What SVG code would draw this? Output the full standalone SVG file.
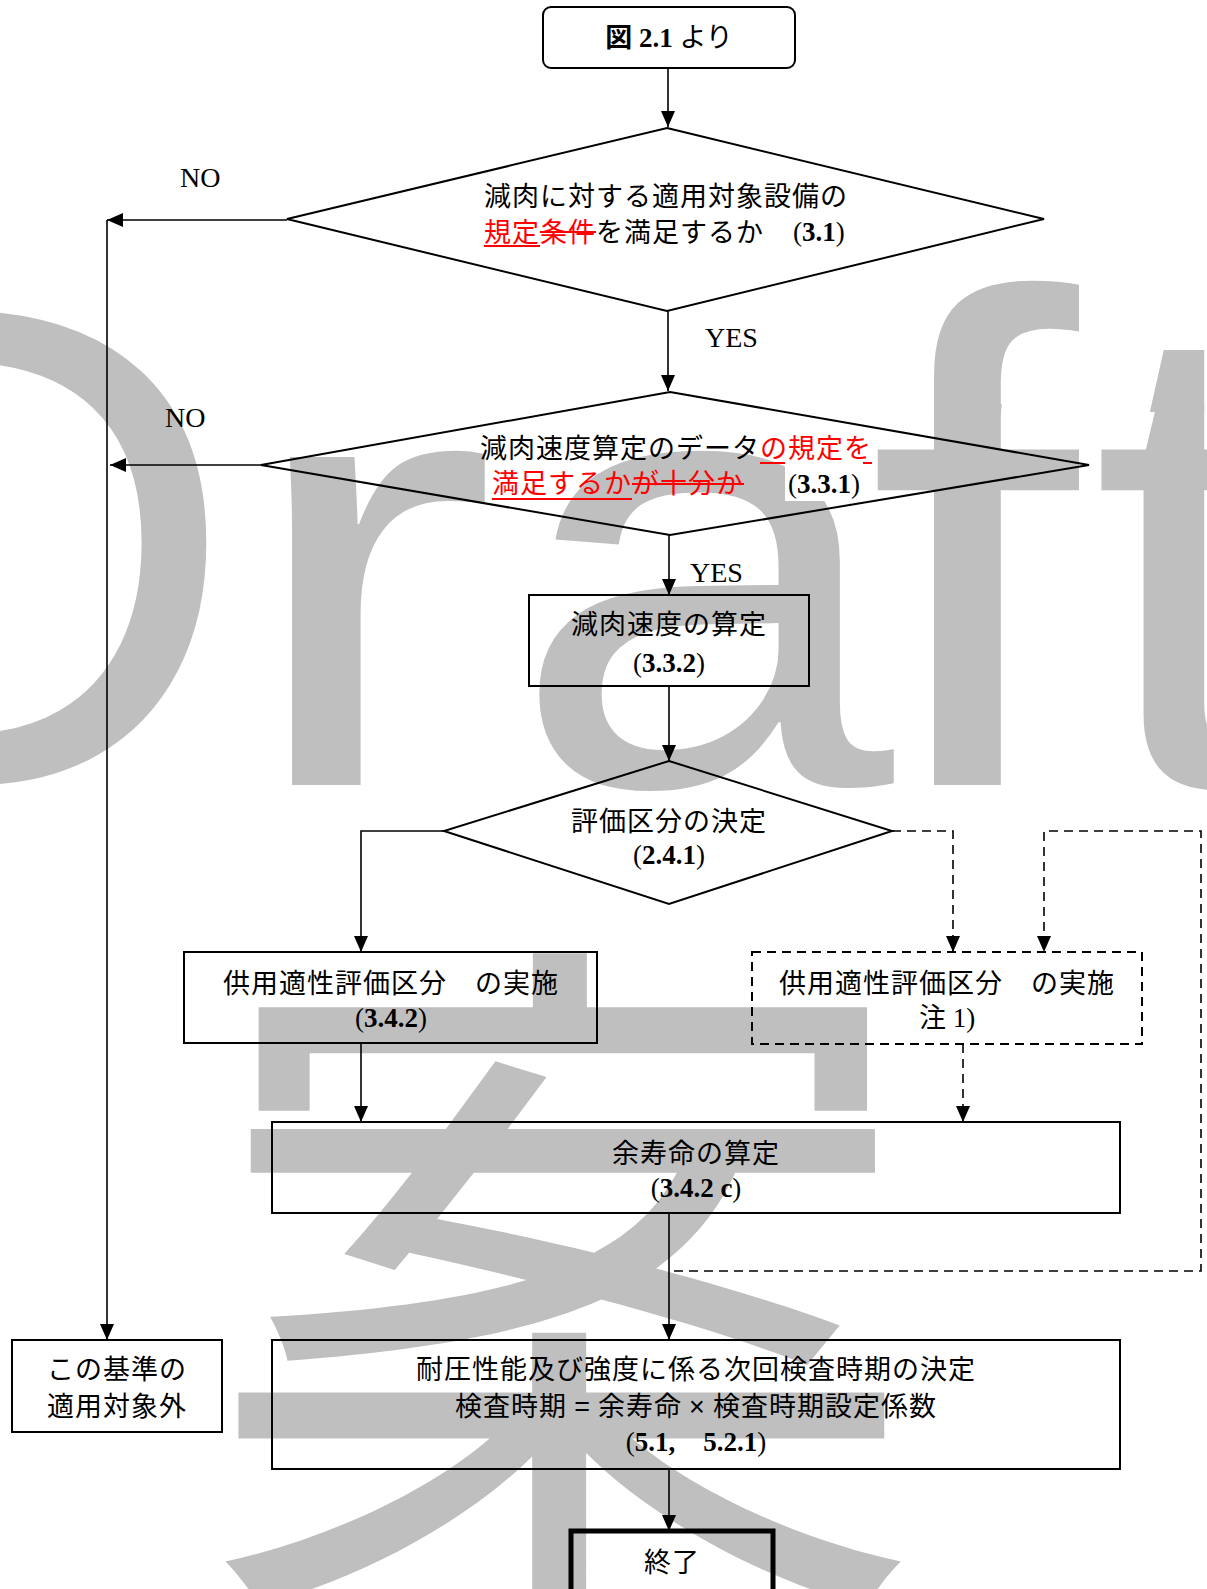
<svg xmlns="http://www.w3.org/2000/svg" width="1207" height="1589" viewBox="0 0 1207 1589">
<style>
.wm{fill:#bfbfbf;font-family:"Liberation Sans",Arial,sans-serif;font-size:690px}
.wmj{fill:#bfbfbf;font-family:"Noto Sans CJK JP",sans-serif;font-size:720px}
.jp{font-family:"Noto Sans CJK JP",sans-serif;font-size:27px;letter-spacing:1px;fill:#000}
.lat{font-family:"Liberation Sans",sans-serif}
.num{font-family:"Liberation Serif",serif;font-size:27px;fill:#000}
.b{font-weight:bold}
.lbl{font-family:"Liberation Serif",serif;font-size:28px;fill:#000}
.node{fill:none;stroke:#000;stroke-width:2}
.conn{fill:none;stroke:#000;stroke-width:1.6}
.dash{stroke-dasharray:9 6}
.red{fill:#f00}
.rl{stroke:#f00;stroke-width:2}
</style>
<defs>
<marker id="ah" markerUnits="userSpaceOnUse" markerWidth="16" markerHeight="14" refX="16" refY="7" orient="auto">
<path d="M0,0 L16,7 L0,14 z" fill="#000"/>
</marker>
<clipPath id="upper"><rect x="0" y="0" width="1207" height="412"/></clipPath>
<clipPath id="lower"><rect x="0" y="404" width="1207" height="500"/></clipPath>
</defs>
<g id="watermark">
<text class="wm" transform="translate(-259,785)">D</text>
<text class="wm" transform="translate(238,785) scale(1.13,0.9)">r</text>
<text class="wm" transform="translate(510,785) scale(1,0.9)">a</text>
<g clip-path="url(#lower)"><text class="wm" transform="translate(867,785) scale(1.1,0.92)">f</text></g>
<g clip-path="url(#upper)"><text class="wm" transform="translate(867,785) scale(1.1,1.01)">f</text></g>
<g clip-path="url(#lower)"><text class="wm" transform="translate(1091,785) scale(1,0.92)">t</text></g>
<g clip-path="url(#upper)"><text class="wm" transform="translate(1091,785) scale(1,0.975)">t</text></g>
<text class="wmj" x="201" y="1558">案</text>
</g>
<g id="connectors">
<line class="conn" x1="668" y1="68" x2="668" y2="127" marker-end="url(#ah)"/>
<line class="conn" x1="668" y1="311" x2="668" y2="391" marker-end="url(#ah)"/>
<line class="conn" x1="287" y1="220" x2="107" y2="220" marker-end="url(#ah)"/>
<line class="conn" x1="261" y1="465" x2="110" y2="465" marker-end="url(#ah)"/>
<line class="conn" x1="107" y1="220" x2="107" y2="1340" marker-end="url(#ah)"/>
<line class="conn" x1="669" y1="535" x2="669" y2="595" marker-end="url(#ah)"/>
<line class="conn" x1="669" y1="686" x2="669" y2="761" marker-end="url(#ah)"/>
<polyline class="conn" points="444,831 361,831 361,952" marker-end="url(#ah)"/>
<polyline class="conn dash" points="892,831 953,831 953,952" marker-end="url(#ah)"/>
<polyline class="conn dash" points="674,1271 1201,1271 1201,831 1044,831 1044,952" marker-end="url(#ah)"/>
<line class="conn" x1="361" y1="1043" x2="361" y2="1122" marker-end="url(#ah)"/>
<line class="conn dash" x1="963" y1="1044" x2="963" y2="1122" marker-end="url(#ah)"/>
<line class="conn" x1="669" y1="1213" x2="669" y2="1340" marker-end="url(#ah)"/>
<line class="conn" x1="669" y1="1469" x2="669" y2="1531" marker-end="url(#ah)"/>
<text class="lbl" x="180" y="187">NO</text>
<text class="lbl" x="165" y="427">NO</text>
<text class="lbl" x="705" y="347">YES</text>
<text class="lbl" x="690" y="582">YES</text>
</g>
<g id="n-start">
<rect class="node" x="543" y="7" width="252" height="61" rx="8"/>
<text x="669" y="47" text-anchor="middle"><tspan class="jp b" style="letter-spacing:0">図</tspan><tspan class="num b"> 2.1 </tspan><tspan class="jp" style="letter-spacing:0">より</tspan></text>
</g>
<g id="n-d1">
<polygon class="node" points="667,128 1044,219 667,311 287,219"/>
<text class="jp" x="484" y="206">減肉に対する適用対象設備の</text>
<text class="jp" x="484" y="242"><tspan class="red">規定条件</tspan>を満足するか</text>
<line class="rl" x1="484" y1="246" x2="540" y2="246"/>
<line class="rl" x1="540" y1="232" x2="596" y2="232"/>
<text class="num" x="793" y="241">(<tspan class="b">3.1</tspan>)</text>
</g>
<g id="n-d2">
<polygon class="node" points="670,392 1089,465 670,535 261,465"/>
<text class="jp" x="480" y="458">減肉速度算定のデータ<tspan class="red">の規定を</tspan></text>
<line class="rl" x1="760" y1="463" x2="872" y2="463"/>
<text class="jp red" x="492" y="493">満足するかが十分か</text>
<line class="rl" x1="492" y1="499" x2="632" y2="499"/>
<line class="rl" x1="632" y1="484" x2="744" y2="484"/>
<rect x="785" y="461" width="78" height="40" fill="#fff"/>
<text class="num" x="788" y="493">(<tspan class="b">3.3.1</tspan>)</text>
</g>
<g id="n-rate">
<rect class="node" x="529" y="595" width="280" height="91"/>
<text class="jp" x="669" y="634" text-anchor="middle">減肉速度の算定</text>
<text class="num" x="669" y="672" text-anchor="middle">(<tspan class="b">3.3.2</tspan>)</text>
</g>
<g id="n-d3">
<polygon class="node" points="669,761 892,831 669,904 444,831"/>
<text class="jp" x="669" y="831" text-anchor="middle">評価区分の決定</text>
<text class="num" x="669" y="864" text-anchor="middle">(<tspan class="b">2.4.1</tspan>)</text>
</g>
<g id="n-ffs">
<rect class="node" x="184" y="952" width="413" height="91"/>
<text class="jp" x="391" y="993" text-anchor="middle">供用適性評価区分　の実施</text>
<text class="num" x="391" y="1027" text-anchor="middle">(<tspan class="b">3.4.2</tspan>)</text>
</g>
<g id="n-ffs2">
<rect class="node dash" x="752" y="952" width="390" height="92"/>
<text class="jp" x="947" y="993" text-anchor="middle">供用適性評価区分　の実施</text>
<text x="947" y="1027" text-anchor="middle"><tspan class="jp" style="letter-spacing:0">注</tspan><tspan class="num"> 1)</tspan></text>
</g>
<g id="n-life">
<rect class="node" x="272" y="1122" width="848" height="91"/>
<text class="jp" x="696" y="1163" text-anchor="middle">余寿命の算定</text>
<text class="num" x="696" y="1197" text-anchor="middle">(<tspan class="b">3.4.2 c</tspan>)</text>
</g>
<g id="n-out">
<rect class="node" x="12" y="1340" width="210" height="92"/>
<text class="jp" x="117" y="1379" text-anchor="middle">この基準の</text>
<text class="jp" x="117" y="1416" text-anchor="middle">適用対象外</text>
</g>
<g id="n-next">
<rect class="node" x="272" y="1340" width="848" height="129"/>
<text class="jp" x="696" y="1379" text-anchor="middle">耐圧性能及び強度に係る次回検査時期の決定</text>
<text class="jp" x="696" y="1416" text-anchor="middle">検査時期 <tspan class="lat">=</tspan> 余寿命 <tspan class="lat">×</tspan> 検査時期設定係数</text>
<text class="num" x="696" y="1451" text-anchor="middle">(<tspan class="b">5.1,</tspan><tspan class="jp">　</tspan><tspan class="b">5.2.1</tspan>)</text>
</g>
<g id="n-end">
<rect x="571" y="1531" width="202" height="70" fill="none" stroke="#000" stroke-width="5"/>
<text class="jp" x="672" y="1572" text-anchor="middle">終了</text>
</g>
</svg>
